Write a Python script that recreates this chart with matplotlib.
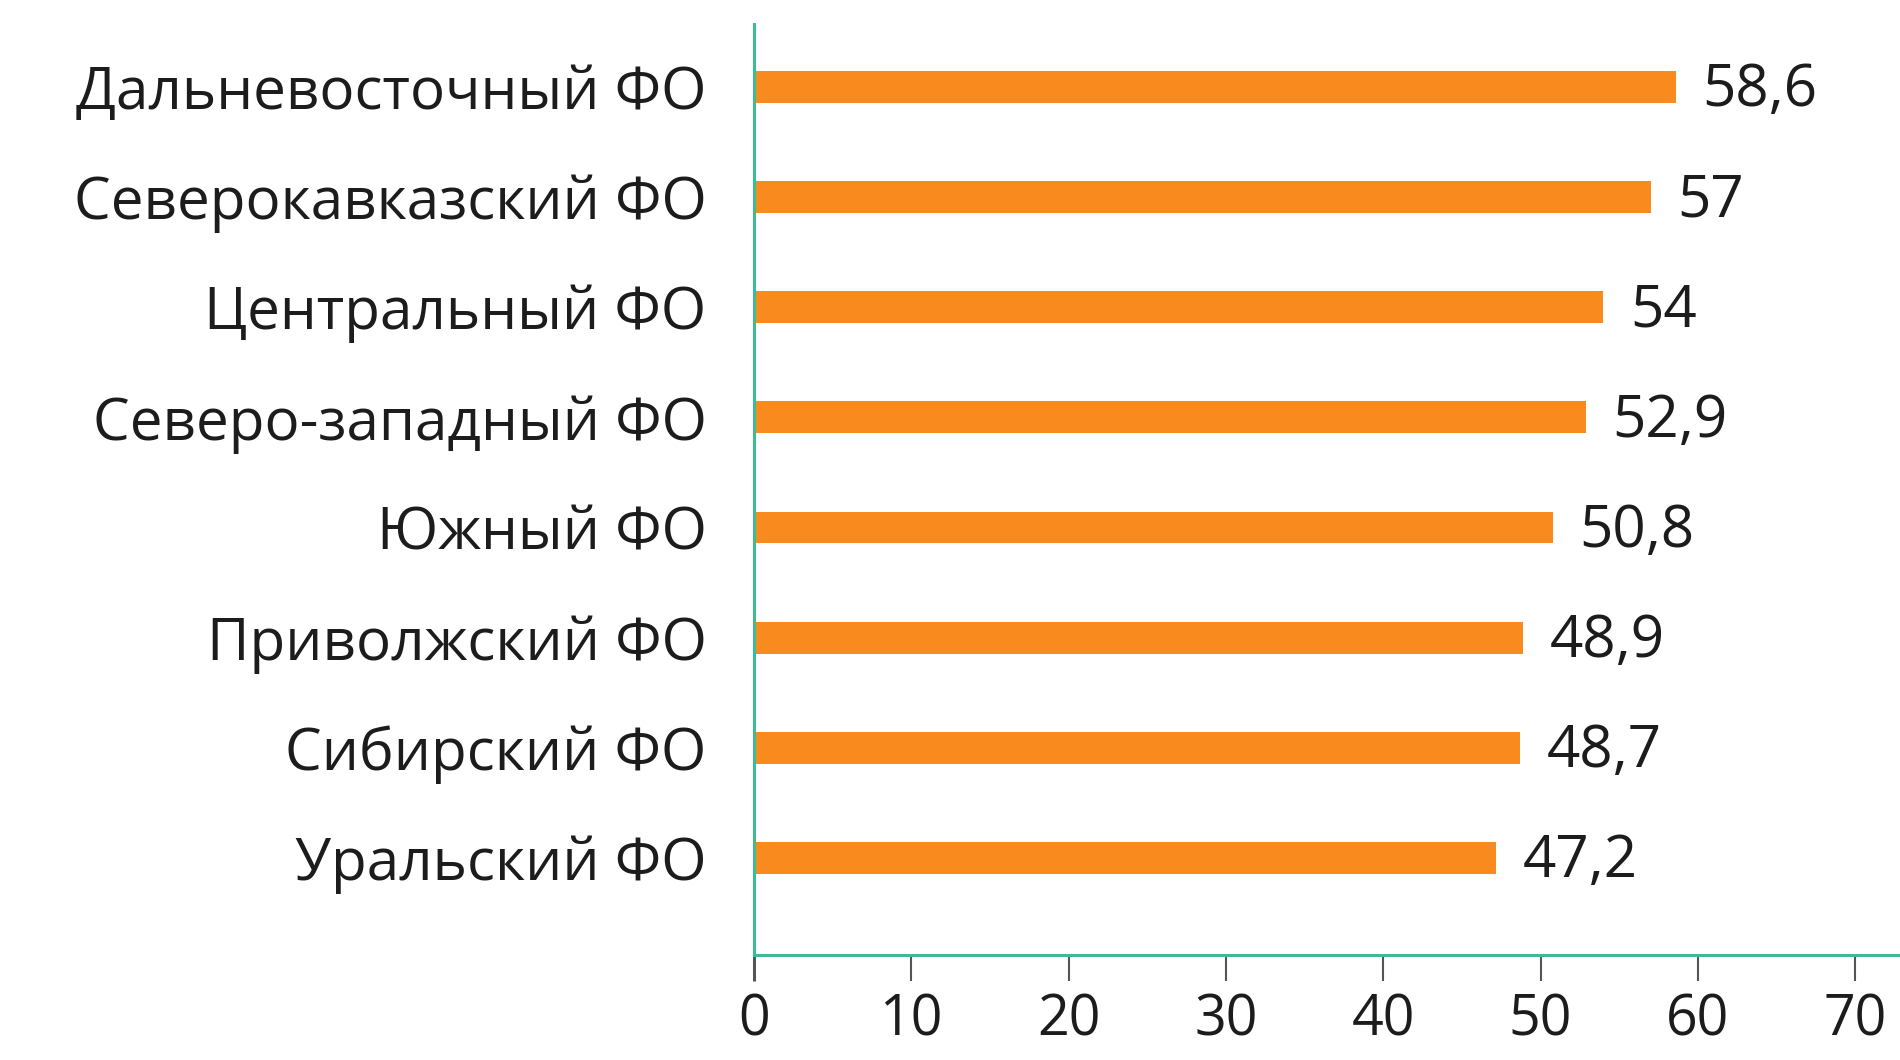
import matplotlib
matplotlib.use("Agg")
import matplotlib.pyplot as plt

# federal districts, bottom to top
districts = ["Уральский ФО", "Сибирский ФО", "Приволжский ФО", "Южный ФО",
             "Северо-западный ФО", "Центральный ФО", "Северокавказский ФО",
             "Дальневосточный ФО"]
values = [47.2, 48.7, 48.9, 50.8, 52.9, 54, 57, 58.6]
value_labels = ["47,2", "48,7", "48,9", "50,8", "52,9", "54", "57", "58,6"]
xticks = [0, 10, 20, 30, 40, 50, 60, 70]

orange = "#F98B1E"
green = "#3DBB94"
text_color = "#1c1c1c"
fs = 42

plt.rcParams['font.family'] = ['Open Sans', 'DejaVu Sans']

fig = plt.figure(figsize=(19, 10.6), dpi=100)
ax = fig.add_axes([0.3968, 0.0991, 0.6032, 0.8783])

pos = list(range(len(districts)))
ax.barh(pos, values, height=0.29, color=orange, edgecolor="none", zorder=2)

for p, v, lab in zip(pos, values, value_labels):
    ax.annotate(lab, (v, p), xytext=(19, -3), textcoords="offset points",
                va="center", ha="left", fontsize=fs, color=text_color)

ax.set_xlim(0, 72.85)
ax.set_ylim(-0.881, 7.572)
ax.set_yticks(pos)
ax.set_yticklabels(districts, fontsize=fs, color=text_color)
ax.tick_params(axis="y", length=0, pad=34)
ax.set_xticks(xticks)
ax.set_xticklabels([str(t) for t in xticks], fontsize=40, color=text_color)
ax.tick_params(axis="x", length=19, width=1.5, color="#555555", pad=8, direction="out")
ax.xaxis.get_major_ticks()[0].tick1line.set_color(green)
ax.xaxis.get_major_ticks()[0].tick1line.set_markeredgewidth(2.2)

for side in ["top", "right"]:
    ax.spines[side].set_visible(False)
for side in ["left", "bottom"]:
    ax.spines[side].set_color(green)
    ax.spines[side].set_linewidth(2.2)

fig.savefig("out.png", dpi=100, facecolor="white")
